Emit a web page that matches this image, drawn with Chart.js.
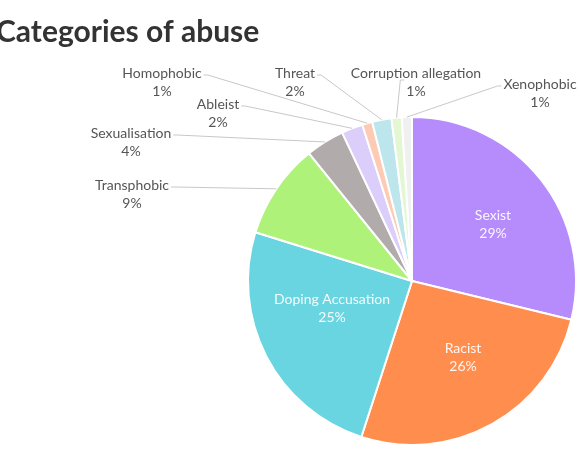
<!DOCTYPE html>
<html>
<head>
<meta charset="utf-8">
<script src="https://cdn.jsdelivr.net/npm/chart.js@4/dist/chart.umd.min.js"></script>
<style>
  html, body { margin: 0; padding: 0; background: #fff; }
  #wrap { width: 580px; height: 460px; position: relative; }
</style>
</head>
<body>
<div id="wrap"><canvas id="abuseChart"></canvas></div>
<script>
// Categories of abuse - share of posts (%)
const categories = ['Sexist', 'Racist', 'Doping Accusation', 'Transphobic', 'Sexualisation',
                    'Ableist', 'Homophobic', 'Threat', 'Corruption allegation', 'Xenophobic'];
const shares = [28.8, 26.2, 24.8, 9.4, 3.8, 2.1, 1.0, 1.9, 1.0, 1.0];
const shareLabels = ['29%', '26%', '25%', '9%', '4%', '2%', '1%', '2%', '1%', '1%'];

const sliceColors = ['#b68cfd', '#ff8d4e', '#69d5e0', '#aef27a', '#b1acab',
                     '#dccefa', '#fdcbb3', '#bde6ec', '#e2f7d2', '#f0f0f0'];

// label text centres, relative to the pie centre (px); inside = white text, no leader line
const labelLayout = [
    { dx: 81, dy: -57, inside: true },
    { dx: 51, dy: 76, inside: true },
    { dx: -80, dy: 27, inside: true },
    { dx: -280, dy: -96 },
    { dx: -281, dy: -148 },
    { dx: -194, dy: -177 },
    { dx: -250, dy: -208 },
    { dx: -117, dy: -208 },
    { dx: 4, dy: -208, lineFrom: 'pct' },
    { dx: 128, dy: -197, lineFrom: 'left' }
];

const FONT = "Lato, 'Open Sans', sans-serif";

const labelsPlugin = {
    id: 'pieLabels',
    afterDatasetsDraw(chart) {
        const ctx = chart.ctx;
        const arcs = chart.getDatasetMeta(0).data;
        ctx.save();

        // title
        ctx.fillStyle = '#333333';
        ctx.font = 'bold 30px ' + FONT;
        ctx.textAlign = 'left';
        ctx.textBaseline = 'alphabetic';
        ctx.fillText('Categories of abuse', -4, 42);

        ctx.font = '14px ' + FONT;
        ctx.textAlign = 'center';
        ctx.textBaseline = 'middle';
        const lh = 18;

        arcs.forEach((arc, i) => {
            const lay = labelLayout[i];
            const cx = arc.x + lay.dx;
            const cy = arc.y + lay.dy;
            if (lay.inside) {
                ctx.fillStyle = 'rgba(255,255,255,0.92)';
                ctx.fillText(categories[i], cx, cy - lh / 2);
                ctx.fillText(shareLabels[i], cx, cy + lh / 2);
                return;
            }
            // leader line: from label to the outer edge at the slice's mid angle
            const mid = (arc.startAngle + arc.endAngle) / 2;
            const ex = arc.x + Math.cos(mid) * arc.outerRadius;
            const ey = arc.y + Math.sin(mid) * arc.outerRadius;
            let sx, sy, kx;
            const w1 = ctx.measureText(categories[i]).width;
            if (lay.lineFrom === 'pct') {
                const w2 = ctx.measureText(shareLabels[i]).width;
                sx = cx - w2 / 2 - 2; sy = cy + lh / 2 - 2; kx = sx - 4;
            } else if (lay.lineFrom === 'left') {
                sx = cx - w1 / 2 - 2; sy = cy + 2; kx = sx - 4;
            } else {
                sx = cx + w1 / 2 + 2; sy = cy + 2; kx = sx + 4;
            }
            ctx.strokeStyle = '#c8c8c8';
            ctx.lineWidth = 1;
            ctx.beginPath();
            ctx.moveTo(sx, sy);
            ctx.lineTo(kx, sy);
            ctx.lineTo(ex, ey);
            ctx.stroke();

            ctx.fillStyle = '#555555';
            ctx.fillText(categories[i], cx, cy);
            ctx.fillText(shareLabels[i], cx, cy + lh);
        });
        ctx.restore();
    }
};

new Chart(document.getElementById('abuseChart'), {
    type: 'pie',
    data: {
        labels: categories,
        datasets: [{
            data: shares,
            backgroundColor: sliceColors,
            borderColor: '#ffffff',
            borderWidth: 2
        }]
    },
    options: {
        responsive: true,
        maintainAspectRatio: false,
        animation: false,
        layout: { padding: { left: 247, top: 116, right: 3, bottom: 14 } },
        plugins: {
            legend: { display: false },
            tooltip: { enabled: false }
        }
    },
    plugins: [labelsPlugin]
});
</script>
</body>
</html>
